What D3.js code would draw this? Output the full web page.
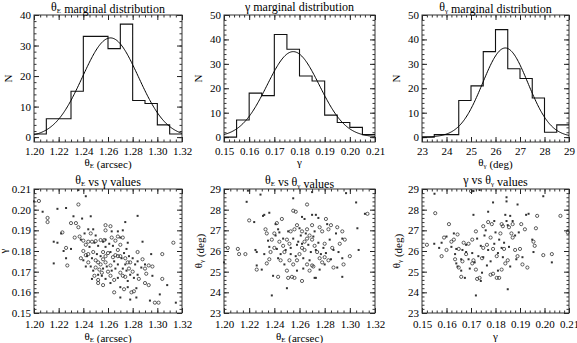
<!DOCTYPE html>
<html>
<head>
<meta charset="utf-8">
<script src="https://cdn.jsdelivr.net/npm/d3@7"></script>
<style>
  body { margin: 0; background: #fff; }
  svg { display: block; }
  text { font-family: "Liberation Serif", "DejaVu Serif", serif; fill: #000; }
</style>
</head>
<body>
<svg width="577" height="343"></svg>
<script>
// ---- histogram data (bin edges start, bin width, counts) ----
const thetaEBins = [1.20, 0.01];
const thetaECounts = [1, 6, 6, 15, 33, 33, 29, 37, 12, 11, 4, 1];
const gammaBins = [0.15, 0.005];
const gammaCounts = [0, 7, 18, 17, 42, 36, 25, 23, 9, 6, 4, 1];
const thetaGBins = [23, 0.5];
const thetaGCounts = [0, 1, 1, 15, 21, 35, 44, 28, 24, 16, 2, 5];

// gaussian fits: [mean, sigma, amplitude]
const thetaEFit = [1.262, 0.0227, 32.5];
const gammaFit = [0.1775, 0.0104, 35];
const thetaGFit = [26.4, 0.925, 36.5];

// ---- scatter samples ----
const thetaE_gamma_circ = [[1.204,0.2042],[1.211,0.196],[1.211,0.194],[1.230,0.1935],[1.234,0.1935],[1.236,0.2025],[1.258,0.1925],[1.258,0.190],[1.223,0.189],[1.227,0.173],[1.237,0.187],[1.240,0.185],[1.242,0.183],[1.244,0.1845],[1.247,0.1845],[1.250,0.1848],[1.254,0.1853],[1.257,0.1853],[1.240,0.180],[1.242,0.178],[1.244,0.1785],[1.250,0.1755],[1.252,0.1745],[1.254,0.1735],[1.256,0.176],[1.258,0.1745],[1.250,0.172],[1.253,0.171],[1.249,0.168],[1.252,0.166],[1.255,0.1695],[1.260,0.170],[1.262,0.173],[1.264,0.177],[1.266,0.178],[1.268,0.1775],[1.270,0.1775],[1.268,0.1805],[1.266,0.185],[1.270,0.183],[1.272,0.1865],[1.268,0.187],[1.274,0.1765],[1.276,0.1745],[1.278,0.1745],[1.277,0.1715],[1.280,0.170],[1.272,0.168],[1.274,0.1675],[1.265,0.166],[1.262,0.168],[1.265,0.160],[1.273,0.1615],[1.279,0.160],[1.281,0.1605],[1.285,0.1665],[1.290,0.1715],[1.293,0.173],[1.296,0.1725],[1.291,0.169],[1.290,0.1645],[1.293,0.1635],[1.304,0.1665],[1.298,0.155],[1.301,0.155],[1.304,0.1785],[1.313,0.184],[1.284,0.1795],[1.288,0.176],[1.262,0.192],[1.263,0.1865],[1.246,0.1885],[1.236,0.1915],[1.233,0.1865],[1.226,0.1815],[1.248,0.1795],[1.256,0.1795],[1.258,0.1775],[1.260,0.179],[1.252,0.1645],[1.256,0.1635],[1.270,0.1695],[1.244,0.1745],[1.238,0.1765]];
const thetaE_gamma_dot = [[1.200,0.204],[1.207,0.199],[1.219,0.2004],[1.226,0.2008],[1.236,0.2095],[1.242,0.2065],[1.232,0.1968],[1.239,0.1957],[1.246,0.1968],[1.284,0.197],[1.274,0.194],[1.216,0.1845],[1.219,0.184],[1.222,0.1885],[1.224,0.180],[1.230,0.181],[1.216,0.174],[1.226,0.1765],[1.238,0.1855],[1.241,0.1885],[1.244,0.1905],[1.248,0.1905],[1.245,0.182],[1.249,0.184],[1.252,0.1825],[1.256,0.1845],[1.258,0.182],[1.261,0.1835],[1.264,0.1825],[1.262,0.1795],[1.265,0.175],[1.268,0.1735],[1.271,0.1765],[1.273,0.179],[1.275,0.181],[1.277,0.1775],[1.276,0.184],[1.272,0.190],[1.268,0.1895],[1.280,0.1765],[1.282,0.1735],[1.278,0.1685],[1.281,0.167],[1.284,0.1685],[1.276,0.1655],[1.270,0.1625],[1.276,0.1625],[1.283,0.162],[1.270,0.1575],[1.283,0.1575],[1.278,0.1565],[1.262,0.1645],[1.258,0.1665],[1.255,0.168],[1.248,0.1705],[1.246,0.1725],[1.242,0.1725],[1.240,0.1755],[1.243,0.1775],[1.247,0.1765],[1.251,0.1785],[1.254,0.1775],[1.256,0.1715],[1.259,0.1725],[1.263,0.1705],[1.266,0.1715],[1.268,0.167],[1.272,0.1715],[1.275,0.1705],[1.288,0.1845],[1.295,0.1785],[1.296,0.168],[1.308,0.1635],[1.294,0.156],[1.302,0.159],[1.315,0.155],[1.287,0.172],[1.284,0.175],[1.290,0.1735],[1.247,0.1665],[1.252,0.1685],[1.274,0.1735],[1.270,0.1865],[1.263,0.1895],[1.258,0.1855],[1.250,0.1875]];

const thetaE_thetaG_circ = [[1.203,26.15],[1.211,26.1],[1.212,25.85],[1.217,25.85],[1.220,27.48],[1.226,25.1],[1.234,25.4],[1.236,25.6],[1.233,27.05],[1.234,26.85],[1.243,24.75],[1.251,24.7],[1.254,24.75],[1.256,24.7],[1.262,24.55],[1.266,28.25],[1.255,27.95],[1.257,27.9],[1.281,27.55],[1.285,27.25],[1.283,27.05],[1.314,27.8],[1.290,27.15],[1.294,26.95],[1.300,25.75],[1.295,25.35],[1.287,25.2],[1.246,27.55],[1.242,27.35],[1.240,26.85],[1.244,26.45],[1.247,26.25],[1.250,26.55],[1.252,26.35],[1.248,25.95],[1.252,25.55],[1.255,25.35],[1.258,25.55],[1.260,25.85],[1.262,26.15],[1.264,26.45],[1.266,26.6],[1.268,26.75],[1.270,26.55],[1.272,26.25],[1.274,25.95],[1.276,25.65],[1.278,25.45],[1.280,25.7],[1.283,25.55],[1.271,25.25],[1.268,25.05],[1.270,25.3],[1.266,25.35],[1.262,26.95],[1.258,27.25],[1.256,27.05],[1.253,26.95],[1.276,27.15],[1.278,26.95],[1.270,27.25],[1.286,26.15],[1.292,26.35],[1.296,26.55],[1.250,25.05],[1.245,25.55],[1.240,26.15],[1.238,26.55],[1.237,25.95],[1.264,26.05],[1.280,26.35],[1.266,27.05]];
const thetaE_thetaG_dot = [[1.200,25.45],[1.219,28.92],[1.218,28.38],[1.229,28.73],[1.224,27.4],[1.225,26.05],[1.226,25.95],[1.226,25.3],[1.230,25.1],[1.232,25.85],[1.232,27.75],[1.236,27.85],[1.231,27.7],[1.235,26.5],[1.238,23.85],[1.250,24.2],[1.239,24.8],[1.272,24.7],[1.273,24.7],[1.294,24.75],[1.255,28.55],[1.270,28.85],[1.297,28.8],[1.305,28.35],[1.262,27.65],[1.270,27.75],[1.273,27.75],[1.312,27.8],[1.306,27.1],[1.294,26.6],[1.307,26.05],[1.294,25.65],[1.290,25.2],[1.241,27.3],[1.243,27.05],[1.241,26.75],[1.244,26.9],[1.242,26.1],[1.245,25.85],[1.247,26.6],[1.249,26.05],[1.251,26.95],[1.253,26.15],[1.255,26.6],[1.257,25.75],[1.259,26.45],[1.260,27.1],[1.262,26.35],[1.263,25.65],[1.265,26.85],[1.267,26.3],[1.269,25.95],[1.271,26.7],[1.273,26.05],[1.275,26.4],[1.277,25.85],[1.279,26.15],[1.281,25.9],[1.284,26.55],[1.287,26.05],[1.289,26.85],[1.291,25.95],[1.276,25.1],[1.268,25.55],[1.263,25.15],[1.258,25.05],[1.253,25.85],[1.248,25.35],[1.243,25.65],[1.236,26.2],[1.282,27.3],[1.275,27.6],[1.264,27.55],[1.258,26.3],[1.272,26.95],[1.285,25.6],[1.280,25.35],[1.261,26.75]];

const gamma_thetaG_circ = [[0.152,26.3],[0.1554,27.83],[0.159,26.65],[0.161,27.3],[0.158,25.75],[0.160,26.05],[0.163,26.55],[0.1645,26.8],[0.1635,25.6],[0.165,25.2],[0.166,24.75],[0.1665,25.5],[0.168,25.85],[0.169,26.35],[0.170,28.9],[0.1705,25.4],[0.171,25.55],[0.172,25.1],[0.1725,24.65],[0.1735,24.7],[0.1745,25.65],[0.175,26.15],[0.1765,26.3],[0.177,27.4],[0.178,26.65],[0.179,26.1],[0.1805,24.7],[0.179,24.9],[0.178,24.85],[0.1815,24.7],[0.1805,25.75],[0.182,26.85],[0.1825,27.3],[0.1835,26.1],[0.184,25.4],[0.185,25.55],[0.1855,27.15],[0.1865,26.85],[0.187,27.3],[0.188,26.05],[0.189,25.75],[0.190,26.1],[0.1905,27.3],[0.191,25.35],[0.192,27.05],[0.193,25.2],[0.1955,26.45],[0.1965,27.1],[0.197,27.7],[0.1995,25.8],[0.203,25.85],[0.2065,27.7],[0.2095,26.9],[0.196,26.25],[0.187,26.65],[0.183,27.2],[0.175,27.2],[0.172,26.95],[0.167,26.4],[0.162,26.45],[0.165,26.1],[0.1825,25.1],[0.1705,26.55],[0.1785,27.3]];
const gamma_thetaG_dot = [[0.1551,28.77],[0.155,26.35],[0.158,26.4],[0.157,26.15],[0.160,26.7],[0.163,26.85],[0.162,26.2],[0.164,26.1],[0.1635,25.85],[0.164,25.4],[0.1645,25.25],[0.166,25.05],[0.1665,26.05],[0.168,25.95],[0.168,26.3],[0.169,25.6],[0.1695,25.15],[0.171,28.9],[0.1735,28.95],[0.171,27.75],[0.1715,25.45],[0.172,23.85],[0.1725,26.6],[0.173,25.75],[0.174,26.25],[0.174,24.55],[0.1745,24.95],[0.175,25.7],[0.1755,26.75],[0.176,27.0],[0.177,27.9],[0.1765,25.3],[0.179,28.35],[0.1795,26.35],[0.180,26.9],[0.181,25.05],[0.181,25.9],[0.1825,26.15],[0.183,25.7],[0.1835,26.4],[0.1845,28.6],[0.1845,28.4],[0.184,27.75],[0.1845,27.45],[0.185,24.15],[0.1855,26.2],[0.186,25.25],[0.187,27.45],[0.188,26.75],[0.189,28.25],[0.1885,25.6],[0.1895,26.9],[0.191,25.7],[0.1925,27.75],[0.1935,27.8],[0.1955,25.95],[0.1995,28.65],[0.203,25.45],[0.2095,27.0],[0.195,26.55],[0.186,27.7],[0.185,27.25],[0.177,26.05],[0.178,25.5],[0.1705,25.9],[0.166,25.6],[0.1675,24.7],[0.1815,26.55],[0.1795,27.45]];

// ---- tick values ----
const thetaETicks = [1.20, 1.22, 1.24, 1.26, 1.28, 1.30, 1.32];
const gammaTicks = [0.15, 0.16, 0.17, 0.18, 0.19, 0.20, 0.21];
const thetaGTicks = [23, 24, 25, 26, 27, 28, 29];
const n40Ticks = [0, 10, 20, 30, 40];
const n50Ticks = [0, 10, 20, 30, 40, 50];

const svg = d3.select('svg');

// label with optional subscript: parts = [[text, sub], ...]
function richText(t, parts) {
  parts.forEach(([s, sub]) => {
    t.append('tspan').text(s);
    if (sub) {
      t.append('tspan').attr('font-size', '7px').attr('dy', 2).text(sub);
      t.append('tspan').attr('dy', -2).text('');
    }
  });
  return t;
}

const labTheta = [['θ', 'E'], [' (arcsec)']];
const labThetaG = [['θ', 'γ'], [' (deg)']];

function panel(opt) {
  const {left, top, w, h} = opt;
  const g = svg.append('g').attr('transform', `translate(${left},${top})`);
  const x = d3.scaleLinear().domain(opt.xd).range([0, w]);
  const y = d3.scaleLinear().domain(opt.yd).range([h, 0]);

  // minor ticks on all four sides
  const minorX = d3.range(opt.xd[0], opt.xd[1] + opt.xMinor / 2, opt.xMinor);
  const minorY = d3.range(opt.yTicks[0], opt.yd[1] + 1e-9, opt.yMinor);
  const axes = [
    [d3.axisBottom(x), h, 0], [d3.axisTop(x), 0, 0],
    [d3.axisLeft(y), 0, 0], [d3.axisRight(y), 0, w]
  ];
  axes.forEach(([ax, ty, tx], i) => {
    const isX = i < 2;
    ax.tickValues(isX ? minorX : minorY).tickSize(-2.5).tickFormat('');
    const a = g.append('g').attr('transform', `translate(${tx},${ty})`).call(ax);
    a.select('.domain').remove();
    a.selectAll('line').attr('stroke', '#333');
  });
  // major ticks
  const bx = g.append('g').attr('transform', `translate(0,${h})`)
    .call(d3.axisBottom(x).tickValues(opt.xTicks).tickSize(-5).tickPadding(opt.xPad).tickFormat(opt.xFmt));
  const tx2 = g.append('g').call(d3.axisTop(x).tickValues(opt.xTicks).tickSize(-5).tickFormat(''));
  const ly = g.append('g')
    .call(d3.axisLeft(y).tickValues(opt.yTicks).tickSize(-5).tickPadding(3).tickFormat(opt.yFmt));
  const ry = g.append('g').attr('transform', `translate(${w},0)`)
    .call(d3.axisRight(y).tickValues(opt.yTicks).tickSize(-5).tickFormat(''));
  [bx, tx2, ly, ry].forEach(a => {
    a.select('.domain').remove();
    a.selectAll('line').attr('stroke', '#222');
    a.selectAll('text').attr('font-size', '11px')
      .attr('font-family', '"Liberation Serif", serif').attr('fill', '#000');
  });

  g.append('rect').attr('width', w).attr('height', h)
    .attr('fill', 'none').attr('stroke', '#333').attr('stroke-width', 1);

  // title, axis labels
  richText(g.append('text').attr('x', w / 2).attr('y', opt.titleY)
    .attr('text-anchor', 'middle').attr('font-size', '12px'), opt.title);
  richText(g.append('text').attr('x', w / 2).attr('y', opt.xLabY)
    .attr('text-anchor', 'middle').attr('font-size', '11px'), opt.xLab);
  richText(g.append('text')
    .attr('transform', `translate(${opt.yLabX},${h / 2}) rotate(-90)`)
    .attr('text-anchor', 'middle').attr('font-size', '11px'), opt.yLab);

  return {g, x, y};
}

function histogram(p, bins, counts, fit) {
  const [start, width] = bins;
  const pts = [];
  counts.forEach((c, i) => {
    pts.push([start + i * width, c], [start + (i + 1) * width, c]);
  });
  const line = d3.line().x(d => p.x(d[0])).y(d => p.y(d[1]));
  p.g.append('path').datum(pts).attr('d', line)
    .attr('fill', 'none').attr('stroke', '#111').attr('stroke-width', 1.1);
  const [mu, sd, amp] = fit;
  const dom = p.x.domain();
  const curve = d3.range(0, 201).map(i => {
    const xv = dom[0] + (dom[1] - dom[0]) * i / 200;
    return [xv, amp * Math.exp(-((xv - mu) ** 2) / (2 * sd * sd))];
  });
  p.g.append('path').datum(curve).attr('d', line)
    .attr('fill', 'none').attr('stroke', '#000').attr('stroke-width', 1);
}

function scatter(p, circ, dots) {
  p.g.selectAll('circle.c').data(circ).enter().append('circle')
    .attr('cx', d => p.x(d[0])).attr('cy', d => p.y(d[1])).attr('r', 1.6)
    .attr('fill', 'none').attr('stroke', '#333').attr('stroke-width', 0.8);
  p.g.selectAll('rect.d').data(dots).enter().append('rect')
    .attr('x', d => p.x(d[0]) - 1).attr('y', d => p.y(d[1]) - 1)
    .attr('width', 2).attr('height', 2).attr('fill', '#333');
}

const f2 = d3.format('.2f');
const fInt = d3.format('d');

const cols = [{left: 34, w: 148}, {left: 224, w: 151}, {left: 422, w: 147}];
const topRow = {top: 15, h: 127, titleY: -4, xLabY: 151, xPad: 5};
const botRow = {top: 189, h: 124, titleY: -5, xLabY: 151, xPad: 7};

const p1 = panel({...cols[0], ...topRow, xd: [1.20, 1.32], yd: [-1.6, 40],
  xTicks: thetaETicks, yTicks: n40Ticks, xMinor: 0.005, yMinor: 2, xFmt: f2, yFmt: fInt,
  title: [['θ', 'E'], [' marginal distribution']], xLab: labTheta, yLab: [['N']], yLabX: -22});
histogram(p1, thetaEBins, thetaECounts, thetaEFit);

const p2 = panel({...cols[1], ...topRow, xd: [0.15, 0.21], yd: [-2, 50],
  xTicks: gammaTicks, yTicks: n50Ticks, xMinor: 0.002, yMinor: 2, xFmt: f2, yFmt: fInt,
  title: [['γ marginal distribution']], xLab: [['γ']], yLab: [['N']], yLabX: -22});
histogram(p2, gammaBins, gammaCounts, gammaFit);

const p3 = panel({...cols[2], ...topRow, xd: [23, 29], yd: [-2, 50],
  xTicks: thetaGTicks, yTicks: n50Ticks, xMinor: 0.2, yMinor: 2, xFmt: fInt, yFmt: fInt,
  title: [['θ', 'γ'], [' marginal distribution']], xLab: labThetaG, yLab: [['N']], yLabX: -22});
histogram(p3, thetaGBins, thetaGCounts, thetaGFit);

const p4 = panel({...cols[0], ...botRow, xd: [1.20, 1.32], yd: [0.15, 0.21],
  xTicks: thetaETicks, yTicks: gammaTicks, xMinor: 0.005, yMinor: 0.002, xFmt: f2, yFmt: f2,
  title: [['θ', 'E'], [' vs γ values']], xLab: labTheta, yLab: [['γ']], yLabX: -27});
scatter(p4, thetaE_gamma_circ, thetaE_gamma_dot);

const p5 = panel({...cols[1], ...botRow, xd: [1.20, 1.32], yd: [23, 29],
  xTicks: thetaETicks, yTicks: thetaGTicks, xMinor: 0.005, yMinor: 0.2, xFmt: f2, yFmt: fInt,
  title: [['θ', 'E'], [' vs θ', 'γ'], [' values']], xLab: labTheta, yLab: labThetaG, yLabX: -22});
scatter(p5, thetaE_thetaG_circ, thetaE_thetaG_dot);

const p6 = panel({...cols[2], ...botRow, xd: [0.15, 0.21], yd: [23, 29],
  xTicks: gammaTicks, yTicks: thetaGTicks, xMinor: 0.002, yMinor: 0.2, xFmt: f2, yFmt: fInt,
  title: [['γ vs θ', 'γ'], [' values']], xLab: [['γ']], yLab: labThetaG, yLabX: -22});
scatter(p6, gamma_thetaG_circ, gamma_thetaG_dot);
</script>
</body>
</html>
